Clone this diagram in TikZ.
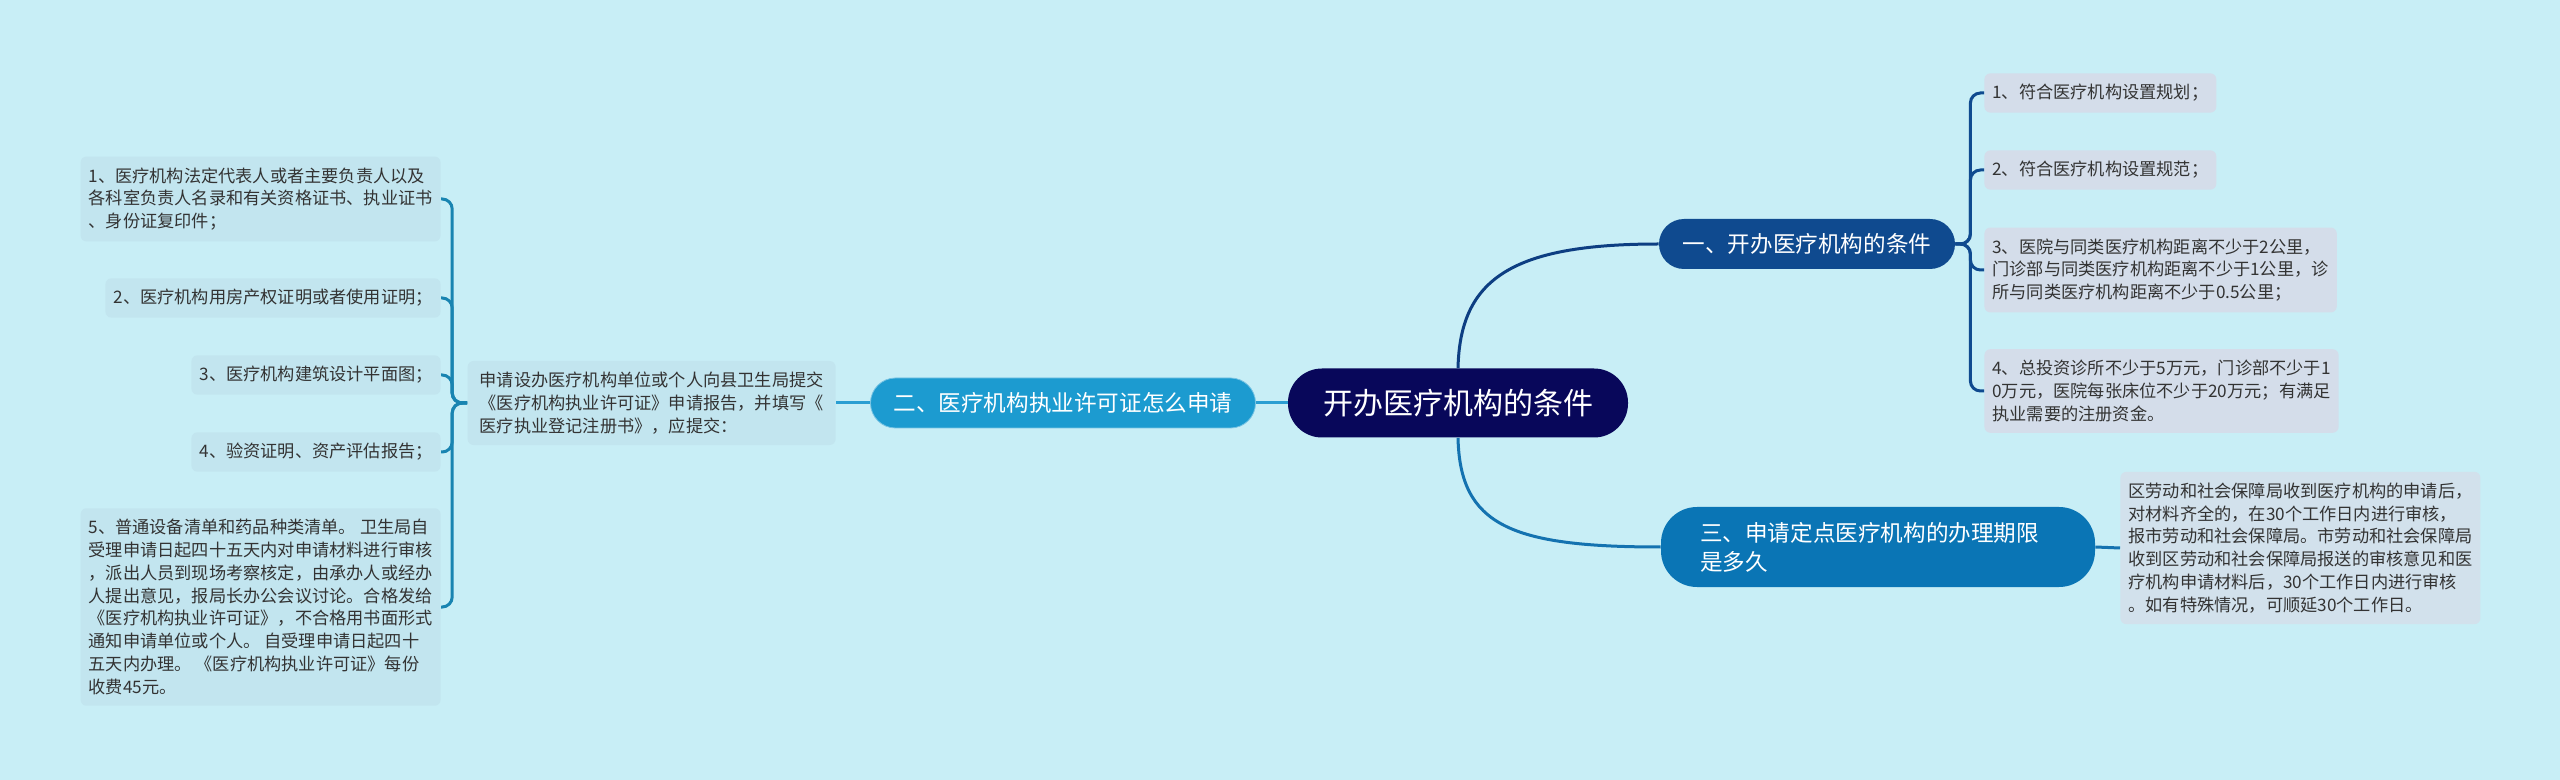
\documentclass[tikz,border=0pt]{standalone}
\usepackage{fontspec}
\setmainfont{Noto Sans CJK SC}
\definecolor{bgc}{HTML}{C8EEF6}
\definecolor{rootc}{HTML}{08075A}
\definecolor{onec}{HTML}{0F4A8F}
\definecolor{twoc}{HTML}{1C9BD0}
\definecolor{threec}{HTML}{0A75B5}
\definecolor{lleafc}{HTML}{C2E5EF}
\definecolor{rleafc}{HTML}{D4DDEA}
\definecolor{tboxc}{HTML}{D2E1EC}
\definecolor{txtc}{HTML}{333333}
\definecolor{linkone}{HTML}{0D3E82}
\definecolor{linkthree}{HTML}{1472B0}
\definecolor{linktwo}{HTML}{2A9ED2}
\newcommand\leafsize{\fontsize{8.6pt}{11.4pt}\selectfont}
\newcommand\branchsize{\fontsize{11.3pt}{14.5pt}\selectfont}
\newcommand\rootsize{\fontsize{15pt}{18pt}\selectfont}
\begin{document}
\begin{tikzpicture}[x=0.5pt,y=-0.5pt,
  rootnode/.style={fill=rootc,text=white,font=\rootsize,minimum width=170pt,
    minimum height=34.5pt,rounded corners=17pt},
  branch/.style={text=white,font=\branchsize,rounded corners=12.5pt,minimum height=25pt},
  leaf/.style={font=\leafsize,text=txtc,align=left,inner xsep=4pt,inner ysep=5.5pt,
    rounded corners=3pt},
  lleaf/.style={leaf,fill=lleafc,anchor=east},
  rleaf/.style={leaf,fill=rleafc,anchor=west},
  link/.style={line width=1.5pt,rounded corners=5pt}]
  \fill[bgc] (0,0) rectangle (2560,780);
  \useasboundingbox (0,0) rectangle (2560,780);

  \node[rootnode] (root) at (1458,403) {开办医疗机构的条件};

  \node[branch,fill=twoc,draw=twoc!60!white,minimum width=192.5pt] (apply) at (1063,403)
    {二、医疗机构执业许可证怎么申请};
  \node[leaf,fill=lleafc,anchor=east,inner xsep=6pt] (submit) at (836,403)
    {申请设办医疗机构单位或个人向县卫生局提交\\《医疗机构执业许可证》申请报告，并填写《\\医疗执业登记注册书》，应提交：};
  \node[lleaf] (doc1) at (441,199)
    {1、医疗机构法定代表人或者主要负责人以及\\各科室负责人名录和有关资格证书、执业证书\\、身份证复印件；};
  \node[lleaf] (doc2) at (441,298) {2、医疗机构用房产权证明或者使用证明；};
  \node[lleaf] (doc3) at (441,375) {3、医疗机构建筑设计平面图；};
  \node[lleaf] (doc4) at (441,452) {4、验资证明、资产评估报告；};
  \node[lleaf] (doc5) at (441,607)
    {5、普通设备清单和药品种类清单。 卫生局自\\受理申请日起四十五天内对申请材料进行审核\\，派出人员到现场考察核定，由承办人或经办\\人提出意见，报局长办公会议讨论。合格发给\\《医疗机构执业许可证》，不合格用书面形式\\通知申请单位或个人。 自受理申请日起四十\\五天内办理。 《医疗机构执业许可证》每份\\收费45元。};

  \node[branch,fill=onec,minimum width=148pt] (cond) at (1807,244) {一、开办医疗机构的条件};
  \node[rleaf] (cond1) at (1984,93) {1、符合医疗机构设置规划；};
  \node[rleaf] (cond2) at (1984,170) {2、符合医疗机构设置规范；};
  \node[rleaf] (cond3) at (1984,270)
    {3、医院与同类医疗机构距离不少于2公里，\\门诊部与同类医疗机构距离不少于1公里，诊\\所与同类医疗机构距离不少于0.5公里；};
  \node[rleaf] (cond4) at (1984,391)
    {4、总投资诊所不少于5万元，门诊部不少于1\\0万元，医院每张床位不少于20万元；有满足\\执业需要的注册资金。};

  \node[branch,fill=threec,rounded corners=18pt,text width=178pt,align=left,inner xsep=19.5pt,
    minimum height=40pt] (term) at (1878,547) {三、申请定点医疗机构的办理期限\\是多久};
  \node[leaf,fill=tboxc,anchor=west] (termtxt) at (2120,548)
    {区劳动和社会保障局收到医疗机构的申请后，\\对材料齐全的，在30个工作日内进行审核，\\报市劳动和社会保障局。市劳动和社会保障局\\收到区劳动和社会保障局报送的审核意见和医\\疗机构申请材料后，30个工作日内进行审核\\。如有特殊情况，可顺延30个工作日。};

  \draw[link,linkone] (root.north) .. controls (1460,280) and (1510,244) .. (cond.west);
  \draw[link,linkthree] (root.south) .. controls (1460,525) and (1510,547) .. (term.west);
  \draw[link,linktwo] (root.west) -- (apply.east);
  \draw[link,linktwo] (apply.west) -- (submit.east);
  \draw[link,linkthree] (term.east) -- (termtxt.west);
  \foreach \d in {doc1,doc2,doc3,doc4,doc5}
    \draw[link,twoc!85!black] (submit.west) -- ++(-15,0) |- (\d.east);
  \foreach \c in {cond1,cond2,cond3,cond4}
    \draw[link,onec] (cond.east) -- ++(15,0) |- (\c.west);
\end{tikzpicture}
\end{document}
